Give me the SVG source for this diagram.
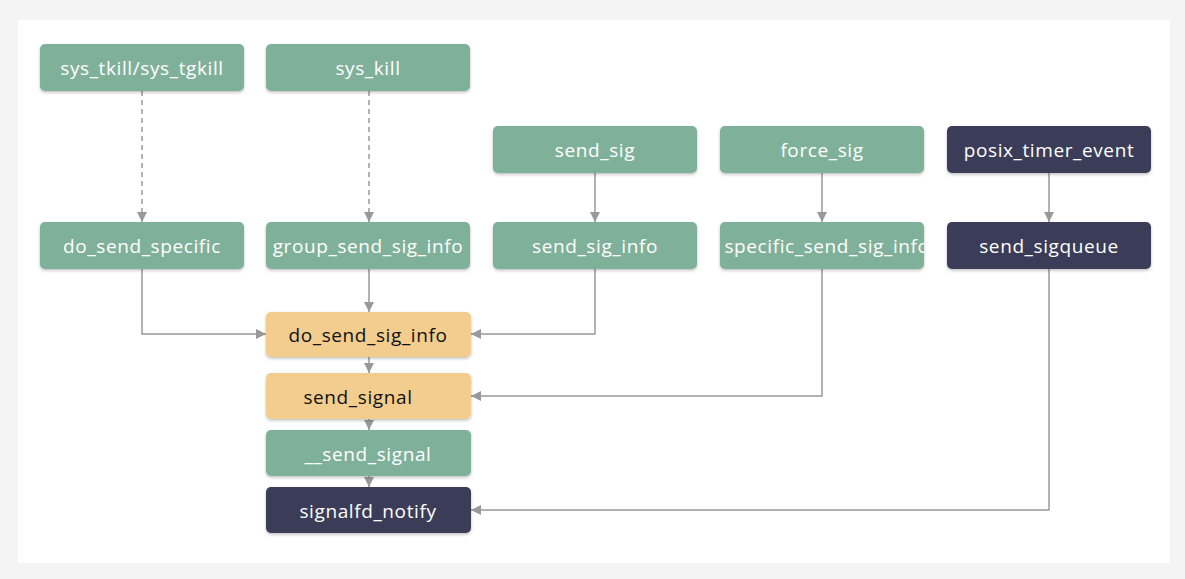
<svg xmlns="http://www.w3.org/2000/svg" width="1185" height="579" viewBox="0 0 1185 579">
  <defs>
    <filter id="shadow" x="-10%" y="-20%" width="120%" height="150%">
      <feDropShadow dx="0" dy="1.5" stdDeviation="1.5" flood-color="#000" flood-opacity="0.25"/>
    </filter>
    <marker id="arrow" viewBox="0 0 10 10" refX="10" refY="5" markerWidth="10" markerHeight="10" markerUnits="userSpaceOnUse" orient="auto">
      <path d="M0,0 L10,5 L0,10 Z" fill="#999"/>
    </marker>
    <clipPath id="clip-specific"><rect x="720" y="222" width="204" height="47" rx="5"/></clipPath>
  </defs>
  <style>
    .box { filter: url(#shadow); }
    .green { fill: #7fb19a; }
    .orange { fill: #f2cd8e; }
    .dark { fill: #3b3d59; }
    .label { font-family: "Open Sans", "Liberation Sans", sans-serif; font-size: 19px; letter-spacing: 0.6px; text-anchor: middle; dominant-baseline: central; }
    .light { fill: #ffffff; }
    .ink { fill: #111111; }
    .edge { fill: none; stroke: #999; stroke-width: 1.5; marker-end: url(#arrow); }
    .dashed { stroke-dasharray: 5 4; }
  </style>

  <rect x="0" y="0" width="1185" height="579" fill="#f4f4f4"/>
  <rect x="18" y="20" width="1152" height="543" fill="#ffffff"/>

  <g id="connectors">
    <path class="edge dashed" d="M142,91 V222"/>
    <path class="edge dashed" d="M369,91 V222"/>
    <path class="edge" d="M595,173 V222"/>
    <path class="edge" d="M822,173 V222"/>
    <path class="edge" d="M1049,173 V222"/>
    <path class="edge" d="M142,269 V334 H266"/>
    <path class="edge" d="M369,269 V312"/>
    <path class="edge" d="M595,269 V334 H471"/>
    <path class="edge" d="M822,269 V396 H471"/>
    <path class="edge" d="M1049,269 V510 H471"/>
    <path class="edge" d="M369,357 V373"/>
    <path class="edge" d="M369,419 V430"/>
    <path class="edge" d="M369,476 V487"/>
  </g>

  <g id="sys_tkill">
    <rect class="box green" x="40" y="44" width="204" height="47" rx="5"/>
    <text class="label light" x="142" y="68">sys_tkill/sys_tgkill</text>
  </g>
  <g id="sys_kill">
    <rect class="box green" x="266" y="44" width="204" height="47" rx="5"/>
    <text class="label light" x="368" y="68">sys_kill</text>
  </g>
  <g id="send_sig">
    <rect class="box green" x="493" y="126" width="204" height="47" rx="5"/>
    <text class="label light" x="595" y="150">send_sig</text>
  </g>
  <g id="force_sig">
    <rect class="box green" x="720" y="126" width="204" height="47" rx="5"/>
    <text class="label light" x="822" y="150">force_sig</text>
  </g>
  <g id="posix_timer_event">
    <rect class="box dark" x="947" y="126" width="204" height="47" rx="5"/>
    <text class="label light" x="1049" y="150">posix_timer_event</text>
  </g>
  <g id="do_send_specific">
    <rect class="box green" x="40" y="222" width="204" height="47" rx="5"/>
    <text class="label light" x="142" y="246">do_send_specific</text>
  </g>
  <g id="group_send_sig_info">
    <rect class="box green" x="266" y="222" width="204" height="47" rx="5"/>
    <text class="label light" x="368" y="246">group_send_sig_info</text>
  </g>
  <g id="send_sig_info">
    <rect class="box green" x="493" y="222" width="204" height="47" rx="5"/>
    <text class="label light" x="595" y="246">send_sig_info</text>
  </g>
  <g id="specific_send_sig_info">
    <rect class="box green" x="720" y="222" width="204" height="47" rx="5"/>
    <text class="label light" x="827" y="246" clip-path="url(#clip-specific)">specific_send_sig_info</text>
  </g>
  <g id="send_sigqueue">
    <rect class="box dark" x="947" y="222" width="204" height="47" rx="5"/>
    <text class="label light" x="1049" y="246">send_sigqueue</text>
  </g>
  <g id="do_send_sig_info">
    <rect class="box orange" x="266" y="312" width="205" height="45" rx="5"/>
    <text class="label ink" x="368" y="335">do_send_sig_info</text>
  </g>
  <g id="send_signal">
    <rect class="box orange" x="266" y="373" width="205" height="46" rx="5"/>
    <text class="label ink" x="358" y="397">send_signal</text>
  </g>
  <g id="__send_signal">
    <rect class="box green" x="266" y="430" width="205" height="46" rx="5"/>
    <text class="label light" x="368" y="454">__send_signal</text>
  </g>
  <g id="signalfd_notify">
    <rect class="box dark" x="266" y="487" width="205" height="46" rx="5"/>
    <text class="label light" x="368" y="511">signalfd_notify</text>
  </g>
</svg>
